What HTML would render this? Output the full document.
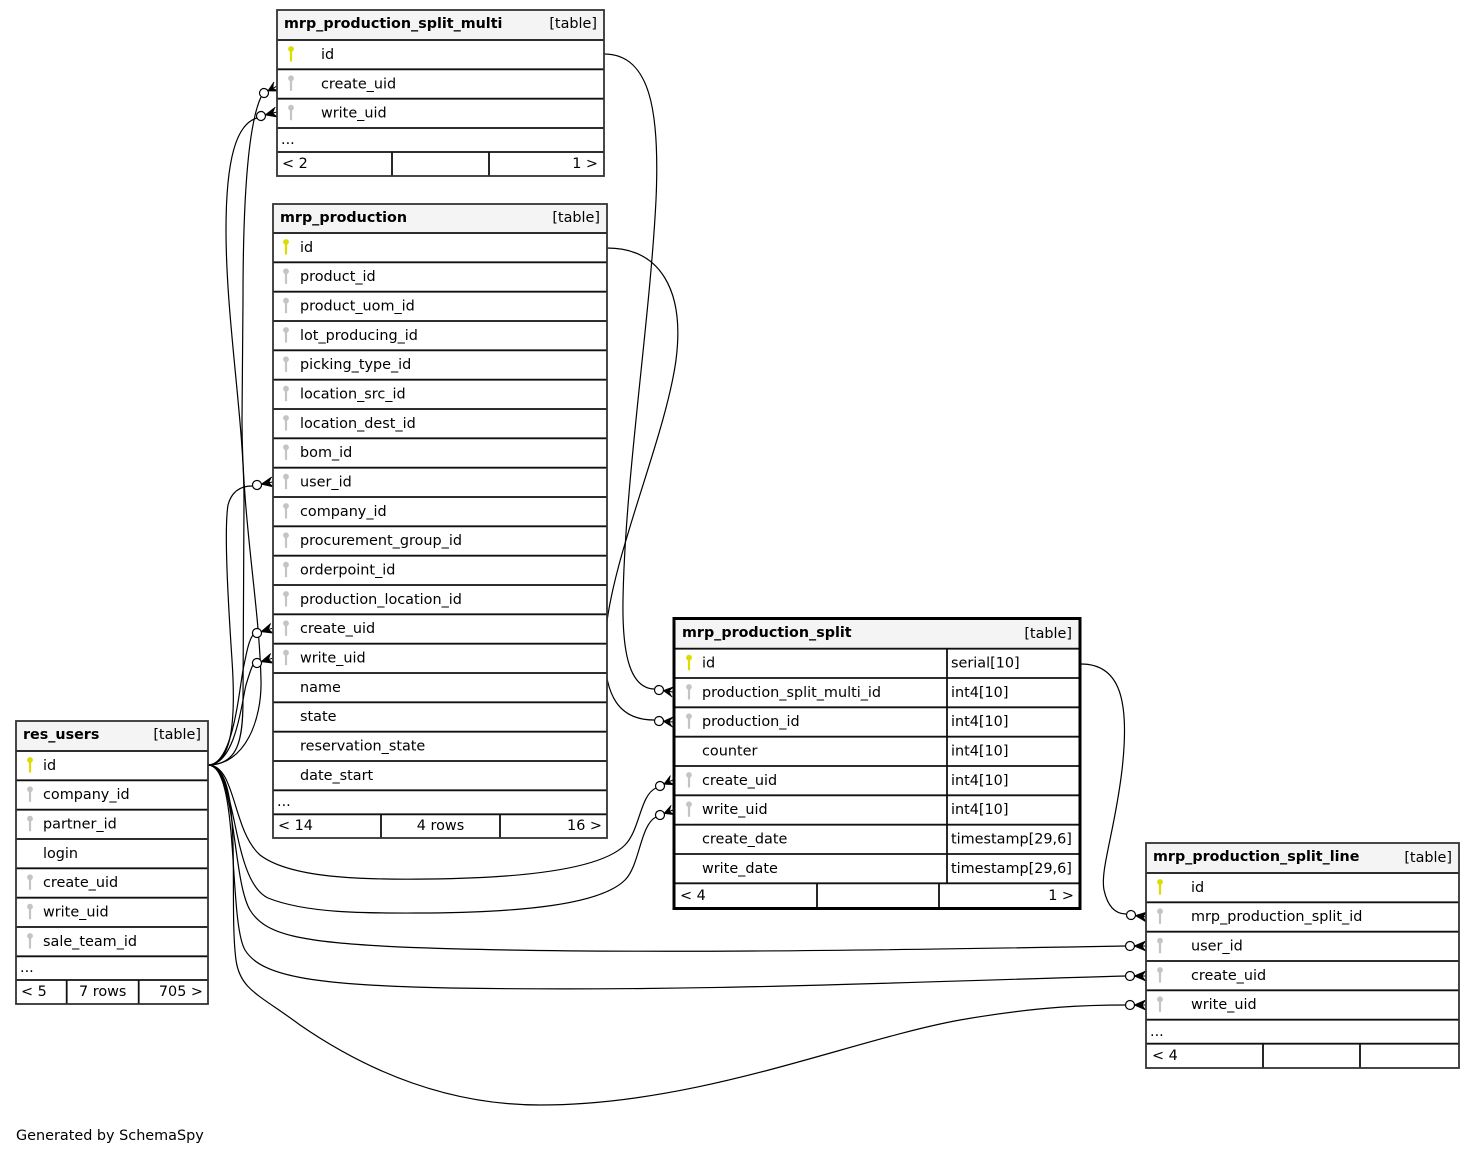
<!DOCTYPE html>
<html><head><meta charset="utf-8"><style>
html,body{margin:0;padding:0;background:#fff;}
svg{display:block;}
text{font-family:"DejaVu Sans","Liberation Sans",sans-serif;font-size:14.4px;fill:#000;}
.b{font-weight:bold;font-size:14.3px;}
.e{fill:none;stroke:#000;stroke-width:1.2;}
.sep{stroke:#111;stroke-width:1.8;}
.ob{fill:none;stroke:#333;stroke-width:1.8;}
</style></head><body>
<svg width="1475" height="1154" viewBox="0 0 1475 1154" xmlns="http://www.w3.org/2000/svg">
<defs>
<g id="pk"><circle cx="0" cy="5" r="2.9" fill="#dcdc00"/><rect x="-1.1" y="6" width="2.2" height="11.5" fill="#dcdc00"/></g>
<g id="fk"><circle cx="0" cy="5" r="2.9" fill="#c4c4c4"/><rect x="-1.1" y="6" width="2.2" height="11.5" fill="#c4c4c4"/></g>
<g id="crow16"><path d="M4.5,0 L16,-5 L12.5,0 L16,5 Z" fill="#000"/><path d="M4.5,0 L16,-5 M4.5,0 L16,0 M4.5,0 L16,5" stroke="#000" stroke-width="1" fill="none"/><circle cx="0" cy="0" r="4.5" fill="#fff" stroke="#000" stroke-width="1.2"/></g>
<g id="crow14"><path d="M4.5,0 L14,-5 L10.5,0 L14,5 Z" fill="#000"/><path d="M4.5,0 L14,-5 M4.5,0 L14,0 M4.5,0 L14,5" stroke="#000" stroke-width="1" fill="none"/><circle cx="0" cy="0" r="4.5" fill="#fff" stroke="#000" stroke-width="1.2"/></g>
</defs>

<!-- ============ EDGES ============ -->
<path class="e" d="M604,54 C650,54 660,110 656,200 C650,320 625,480 623,600 C622,660 632,688 654,689"/>
<path class="e" d="M607,248 C660,248 685,290 676,360 C665,440 610,560 605,640 C602,700 622,720 654,720"/>
<path class="e" d="M1081,664 C1120,664 1130,700 1122,770 C1115,830 1100,870 1104,890 C1108,908 1116,914 1126,914"/>
<path class="e" d="M208,765 C245,765 262,720 261,680 C259,600 242,520 242,420 L243,300 C243,200 248,125 261,97"/>
<path class="e" d="M208,765 C238,765 243,740 243,700 L244,500 C244,420 226,320 226,230 C226,160 236,124 257,118"/>
<path class="e" d="M208,765 C232,765 236,720 232,660 C228,600 224,530 228,505 C232,490 242,486 252,486"/>
<path class="e" d="M208,765 C232,765 238,700 243,670 C247,650 249,640 253,635"/>
<path class="e" d="M208,765 C236,765 242,700 246,685 C249,675 251,668 253,665"/>
<path class="e" d="M208,765 C236,765 232,830 260,855 C290,878 360,880 430,879 C520,878 600,870 625,845 C640,830 640,795 656,788"/>
<path class="e" d="M208,765 C238,765 230,880 268,898 C310,915 380,913 430,913 C520,912 600,905 625,880 C640,865 640,825 656,817"/>
<path class="e" d="M208,765 C236,765 232,880 250,910 C265,935 300,942 400,947 C600,955 900,950 1126,946"/>
<path class="e" d="M208,765 C240,765 228,920 245,950 C262,978 320,985 450,988 C700,992 900,982 1126,976"/>
<path class="e" d="M208,765 C245,765 228,900 236,960 C240,990 260,995 300,1025 C380,1080 460,1105 540,1105 C700,1105 850,1040 960,1020 C1040,1006 1090,1005 1126,1005"/>

<use href="#crow14" transform="translate(264,93) rotate(-28)"/>
<use href="#crow16" transform="translate(261,116) rotate(-14)"/>
<use href="#crow16" transform="translate(257,485) rotate(-11)"/>
<use href="#crow16" transform="translate(257,633) rotate(-17)"/>
<use href="#crow16" transform="translate(257,663) rotate(-17)"/>
<use href="#crow14" transform="translate(659,690) rotate(8)"/>
<use href="#crow14" transform="translate(659,721) rotate(4)"/>
<use href="#crow14" transform="translate(660,786) rotate(-25)"/>
<use href="#crow14" transform="translate(660,815) rotate(-21)"/>
<use href="#crow16" transform="translate(1131,915) rotate(7)"/>
<use href="#crow16" transform="translate(1130,946)"/>
<use href="#crow16" transform="translate(1130,976)"/>
<use href="#crow16" transform="translate(1130,1005)"/>

<!-- ============ mrp_production_split_multi ============ -->
<rect x="277" y="10" width="327" height="166" fill="#fff"/>
<rect x="277" y="10" width="327" height="30" fill="#f4f4f4"/>
<line class="sep" x1="277" y1="40" x2="604" y2="40"/>
<line class="sep" x1="277" y1="69.3" x2="604" y2="69.3"/>
<line class="sep" x1="277" y1="98.7" x2="604" y2="98.7"/>
<line class="sep" x1="277" y1="128" x2="604" y2="128"/>
<line class="sep" x1="277" y1="152" x2="604" y2="152"/>
<line class="sep" x1="392" y1="152" x2="392" y2="176"/>
<line class="sep" x1="489" y1="152" x2="489" y2="176"/>
<rect class="ob" x="277" y="10" width="327" height="166"/>
<text class="b" x="284" y="28">mrp_production_split_multi</text>
<text x="597" y="28" text-anchor="end">[table]</text>
<use href="#pk" x="291" y="44"/><text x="321" y="59">id</text>
<use href="#fk" x="291" y="73.3"/><text x="321" y="88.3">create_uid</text>
<use href="#fk" x="291" y="102.7"/><text x="321" y="117.7">write_uid</text>
<text x="281" y="144">...</text>
<text x="282" y="168">&lt; 2</text>
<text x="598" y="168" text-anchor="end">1 &gt;</text>

<!-- ============ mrp_production ============ -->
<rect x="273" y="204" width="334" height="634" fill="#fff"/>
<rect x="273" y="204" width="334" height="29" fill="#f4f4f4"/>
<g class="sep">
<line x1="273" y1="233" x2="607" y2="233"/>
<line x1="273" y1="262.3" x2="607" y2="262.3"/>
<line x1="273" y1="291.7" x2="607" y2="291.7"/>
<line x1="273" y1="321" x2="607" y2="321"/>
<line x1="273" y1="350.3" x2="607" y2="350.3"/>
<line x1="273" y1="379.7" x2="607" y2="379.7"/>
<line x1="273" y1="409" x2="607" y2="409"/>
<line x1="273" y1="438.3" x2="607" y2="438.3"/>
<line x1="273" y1="467.7" x2="607" y2="467.7"/>
<line x1="273" y1="497" x2="607" y2="497"/>
<line x1="273" y1="526.3" x2="607" y2="526.3"/>
<line x1="273" y1="555.7" x2="607" y2="555.7"/>
<line x1="273" y1="585" x2="607" y2="585"/>
<line x1="273" y1="614.3" x2="607" y2="614.3"/>
<line x1="273" y1="643.7" x2="607" y2="643.7"/>
<line x1="273" y1="673" x2="607" y2="673"/>
<line x1="273" y1="702.3" x2="607" y2="702.3"/>
<line x1="273" y1="731.7" x2="607" y2="731.7"/>
<line x1="273" y1="761" x2="607" y2="761"/>
<line x1="273" y1="790.3" x2="607" y2="790.3"/>
<line x1="273" y1="814.3" x2="607" y2="814.3"/>
<line x1="381" y1="814.3" x2="381" y2="838"/>
<line x1="500" y1="814.3" x2="500" y2="838"/>
</g>
<rect class="ob" x="273" y="204" width="334" height="634"/>
<text class="b" x="280" y="222">mrp_production</text>
<text x="600" y="222" text-anchor="end">[table]</text>
<use href="#pk" x="286" y="237"/><text x="300" y="251.8">id</text>
<use href="#fk" x="286" y="266.3"/><text x="300" y="281.1">product_id</text>
<use href="#fk" x="286" y="295.7"/><text x="300" y="310.5">product_uom_id</text>
<use href="#fk" x="286" y="325"/><text x="300" y="339.8">lot_producing_id</text>
<use href="#fk" x="286" y="354.3"/><text x="300" y="369.1">picking_type_id</text>
<use href="#fk" x="286" y="383.7"/><text x="300" y="398.5">location_src_id</text>
<use href="#fk" x="286" y="413"/><text x="300" y="427.8">location_dest_id</text>
<use href="#fk" x="286" y="442.3"/><text x="300" y="457.1">bom_id</text>
<use href="#fk" x="286" y="471.7"/><text x="300" y="486.5">user_id</text>
<use href="#fk" x="286" y="501"/><text x="300" y="515.8">company_id</text>
<use href="#fk" x="286" y="530.3"/><text x="300" y="545.1">procurement_group_id</text>
<use href="#fk" x="286" y="559.7"/><text x="300" y="574.5">orderpoint_id</text>
<use href="#fk" x="286" y="589"/><text x="300" y="603.8">production_location_id</text>
<use href="#fk" x="286" y="618.3"/><text x="300" y="633.1">create_uid</text>
<use href="#fk" x="286" y="647.7"/><text x="300" y="662.5">write_uid</text>
<text x="300" y="691.8">name</text>
<text x="300" y="721.1">state</text>
<text x="300" y="750.5">reservation_state</text>
<text x="300" y="779.8">date_start</text>
<text x="277" y="806">...</text>
<text x="278" y="830">&lt; 14</text>
<text x="440.5" y="830" text-anchor="middle">4 rows</text>
<text x="602" y="830" text-anchor="end">16 &gt;</text>

<!-- ============ res_users ============ -->
<rect x="16" y="721" width="192" height="283" fill="#fff"/>
<rect x="16" y="721" width="192" height="30" fill="#f4f4f4"/>
<g class="sep">
<line x1="16" y1="751" x2="208" y2="751"/>
<line x1="16" y1="780.3" x2="208" y2="780.3"/>
<line x1="16" y1="809.7" x2="208" y2="809.7"/>
<line x1="16" y1="839" x2="208" y2="839"/>
<line x1="16" y1="868.3" x2="208" y2="868.3"/>
<line x1="16" y1="897.7" x2="208" y2="897.7"/>
<line x1="16" y1="927" x2="208" y2="927"/>
<line x1="16" y1="956.3" x2="208" y2="956.3"/>
<line x1="16" y1="980" x2="208" y2="980"/>
<line x1="66.7" y1="980" x2="66.7" y2="1004"/>
<line x1="138.7" y1="980" x2="138.7" y2="1004"/>
</g>
<rect class="ob" x="16" y="721" width="192" height="283"/>
<text class="b" x="23" y="739">res_users</text>
<text x="201" y="739" text-anchor="end">[table]</text>
<use href="#pk" x="30" y="755"/><text x="43" y="769.8">id</text>
<use href="#fk" x="30" y="784.3"/><text x="43" y="799.1">company_id</text>
<use href="#fk" x="30" y="813.7"/><text x="43" y="828.5">partner_id</text>
<text x="43" y="857.8">login</text>
<use href="#fk" x="30" y="872.3"/><text x="43" y="887.1">create_uid</text>
<use href="#fk" x="30" y="901.7"/><text x="43" y="916.5">write_uid</text>
<use href="#fk" x="30" y="931"/><text x="43" y="945.8">sale_team_id</text>
<text x="20" y="972">...</text>
<text x="21" y="996">&lt; 5</text>
<text x="102.7" y="996" text-anchor="middle">7 rows</text>
<text x="203" y="996" text-anchor="end">705 &gt;</text>

<!-- ============ mrp_production_split ============ -->
<rect x="674" y="618.5" width="406" height="290" fill="#fff"/>
<rect x="674" y="618.5" width="406" height="30.2" fill="#f4f4f4"/>
<g class="sep">
<line x1="674" y1="648.7" x2="1080" y2="648.7"/>
<line x1="674" y1="678" x2="1080" y2="678"/>
<line x1="674" y1="707.3" x2="1080" y2="707.3"/>
<line x1="674" y1="736.7" x2="1080" y2="736.7"/>
<line x1="674" y1="766" x2="1080" y2="766"/>
<line x1="674" y1="795.3" x2="1080" y2="795.3"/>
<line x1="674" y1="824.7" x2="1080" y2="824.7"/>
<line x1="674" y1="854" x2="1080" y2="854"/>
<line x1="674" y1="883.3" x2="1080" y2="883.3"/>
<line x1="947" y1="648.7" x2="947" y2="883.3"/>
<line x1="817" y1="883.3" x2="817" y2="907"/>
<line x1="939" y1="883.3" x2="939" y2="907"/>
</g>
<rect x="674" y="618.5" width="406" height="290" fill="none" stroke="#000" stroke-width="3"/>
<text class="b" x="682" y="637">mrp_production_split</text>
<text x="1072" y="638" text-anchor="end">[table]</text>
<use href="#pk" x="689" y="652.7"/><text x="702" y="667.5">id</text><text x="951" y="667.5">serial[10]</text>
<use href="#fk" x="689" y="682"/><text x="702" y="696.8">production_split_multi_id</text><text x="951" y="696.8">int4[10]</text>
<use href="#fk" x="689" y="711.3"/><text x="702" y="726.1">production_id</text><text x="951" y="726.1">int4[10]</text>
<text x="702" y="755.5">counter</text><text x="951" y="755.5">int4[10]</text>
<use href="#fk" x="689" y="770"/><text x="702" y="784.8">create_uid</text><text x="951" y="784.8">int4[10]</text>
<use href="#fk" x="689" y="799.3"/><text x="702" y="814.1">write_uid</text><text x="951" y="814.1">int4[10]</text>
<text x="702" y="843.5">create_date</text><text x="951" y="843.5">timestamp[29,6]</text>
<text x="702" y="872.8">write_date</text><text x="951" y="872.8">timestamp[29,6]</text>
<text x="680" y="900">&lt; 4</text>
<text x="1074" y="900" text-anchor="end">1 &gt;</text>

<!-- ============ mrp_production_split_line ============ -->
<rect x="1146" y="843" width="313" height="225" fill="#fff"/>
<rect x="1146" y="843" width="313" height="30" fill="#f4f4f4"/>
<g class="sep">
<line x1="1146" y1="873" x2="1459" y2="873"/>
<line x1="1146" y1="902.3" x2="1459" y2="902.3"/>
<line x1="1146" y1="931.7" x2="1459" y2="931.7"/>
<line x1="1146" y1="961" x2="1459" y2="961"/>
<line x1="1146" y1="990.3" x2="1459" y2="990.3"/>
<line x1="1146" y1="1019.7" x2="1459" y2="1019.7"/>
<line x1="1146" y1="1043.7" x2="1459" y2="1043.7"/>
<line x1="1263" y1="1043.7" x2="1263" y2="1068"/>
<line x1="1360" y1="1043.7" x2="1360" y2="1068"/>
</g>
<rect class="ob" x="1146" y="843" width="313" height="225"/>
<text class="b" x="1153" y="861">mrp_production_split_line</text>
<text x="1452" y="862" text-anchor="end">[table]</text>
<use href="#pk" x="1160" y="877"/><text x="1191" y="891.8">id</text>
<use href="#fk" x="1160" y="906.3"/><text x="1191" y="921.1">mrp_production_split_id</text>
<use href="#fk" x="1160" y="935.7"/><text x="1191" y="950.5">user_id</text>
<use href="#fk" x="1160" y="965"/><text x="1191" y="979.8">create_uid</text>
<use href="#fk" x="1160" y="994.3"/><text x="1191" y="1009.1">write_uid</text>
<text x="1150" y="1036">...</text>
<text x="1152" y="1060">&lt; 4</text>

<text x="16" y="1140">Generated by SchemaSpy</text>
</svg>
</body></html>
